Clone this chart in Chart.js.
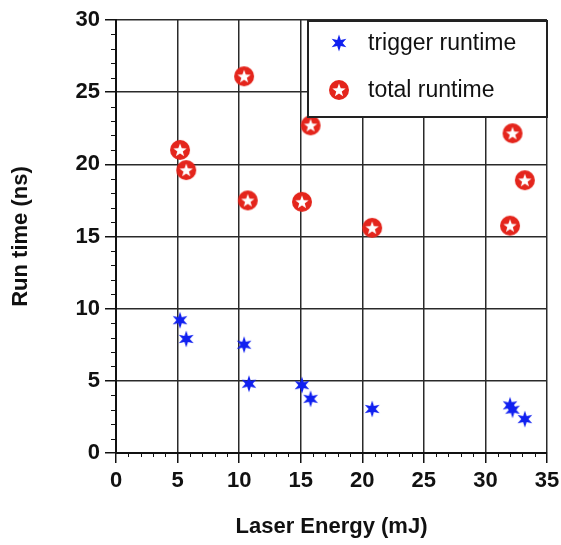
<!DOCTYPE html>
<html>
<head>
<meta charset="utf-8">
<script src="https://cdn.jsdelivr.net/npm/chart.js@4"></script>
<style>
  html, body { margin: 0; padding: 0; background: #fff; }
  canvas { display: block; }
</style>
</head>
<body>
<canvas id="runChart" width="561" height="545"></canvas>
<script>
// laser energy (mJ) vs run time (ns)
const triggerEnergy = [5.2, 5.7, 10.4, 10.8, 15.1, 15.8, 20.8, 32.0, 32.2, 33.2];
const triggerTime = [9.2, 7.9, 7.5, 4.8, 4.7, 3.75, 3.05, 3.3, 3.0, 2.35];
const totalEnergy = [5.2, 5.7, 10.4, 10.7, 15.1, 15.8, 20.8, 32.0, 32.2, 33.2];
const totalTime = [21.0, 19.6, 26.1, 17.5, 17.4, 22.7, 15.6, 15.75, 22.15, 18.9];
const seriesLabels = ['trigger runtime', 'total runtime'];
const xTicks = [0, 5, 10, 15, 20, 25, 30, 35];
const yTicks = [0, 5, 10, 15, 20, 25, 30];

const colors = {
    blue: '#1020f0',
    red: '#e4251c',
    grid: '#2a2a2a',
    axis: '#111'
};

function starPath(ctx, cx, cy, points, outer, inner) {
    ctx.beginPath();
    for (let i = 0; i < points * 2; i++) {
        const r = i % 2 === 0 ? outer : inner;
        const a = -Math.PI / 2 + i * Math.PI / points;
        const x = cx + r * Math.cos(a);
        const y = cy + r * Math.sin(a);
        if (i === 0) ctx.moveTo(x, y); else ctx.lineTo(x, y);
    }
    ctx.closePath();
}

// blue six-point star
function makeTriggerIcon() {
    const c = document.createElement('canvas');
    c.width = 20; c.height = 20;
    const g = c.getContext('2d');
    starPath(g, 10, 10, 6, 8.5, 3.6);
    g.fillStyle = colors.blue;
    g.fill();
    return c;
}

// red disc with a white five-point star
function makeTotalIcon() {
    const c = document.createElement('canvas');
    c.width = 22; c.height = 22;
    const g = c.getContext('2d');
    g.beginPath();
    g.arc(11, 11, 10, 0, Math.PI * 2);
    g.fillStyle = colors.red;
    g.fill();
    starPath(g, 11, 11.6, 5, 7, 2.9);
    g.fillStyle = '#fff';
    g.fill();
    return c;
}

const triggerIcon = makeTriggerIcon();
const totalIcon = makeTotalIcon();

const isMajor = (v, list) => list.includes(v);

// small unit ticks between the labelled ones
const minorTicks = {
    id: 'minorTicks',
    afterDraw(chart) {
        const { ctx, scales: { x, y } } = chart;
        ctx.save();
        ctx.strokeStyle = colors.axis;
        ctx.lineWidth = 1;
        for (let v = x.min; v <= x.max; v++) {
            if (isMajor(v, xTicks)) continue;
            const px = Math.round(x.getPixelForValue(v)) + 0.5;
            ctx.beginPath();
            ctx.moveTo(px, y.bottom);
            ctx.lineTo(px, y.bottom + 4);
            ctx.stroke();
        }
        for (let v = y.min; v <= y.max; v++) {
            if (isMajor(v, yTicks)) continue;
            const py = Math.round(y.getPixelForValue(v)) + 0.5;
            ctx.beginPath();
            ctx.moveTo(x.left - 5, py);
            ctx.lineTo(x.left, py);
            ctx.stroke();
        }
        ctx.restore();
    }
};

// boxed legend in the upper right corner of the plot
const boxLegend = {
    id: 'boxLegend',
    afterDraw(chart) {
        const { ctx, chartArea: a } = chart;
        const left = 308, top = a.top + 1, right = a.right, bottom = 117;
        ctx.save();
        ctx.fillStyle = '#fff';
        ctx.fillRect(left, top, right - left, bottom - top);
        ctx.strokeStyle = '#222';
        ctx.lineWidth = 2;
        ctx.strokeRect(left, top, right - left, bottom - top);
        const icons = [triggerIcon, totalIcon];
        const rows = [43, 90];
        ctx.font = '23px "Liberation Sans", Arial, sans-serif';
        ctx.fillStyle = '#111';
        ctx.textBaseline = 'middle';
        chart.data.datasets.forEach((ds, i) => {
            const img = icons[i];
            ctx.drawImage(img, 339 - img.width / 2, rows[i] - img.height / 2);
            ctx.fillText(ds.label, 368, rows[i] + 1);
        });
        ctx.restore();
    }
};

const tickFont = { family: '"Liberation Sans", Arial, sans-serif', size: 22, weight: 'bold' };
const titleFont = { family: '"Liberation Sans", Arial, sans-serif', size: 22, weight: 'bold' };

new Chart(document.getElementById('runChart'), {
    type: 'scatter',
    data: {
        datasets: [{
            label: seriesLabels[0],
            data: triggerEnergy.map((e, i) => ({ x: e, y: triggerTime[i] })),
            pointStyle: triggerIcon,
            pointRadius: 9
        }, {
            label: seriesLabels[1],
            data: totalEnergy.map((e, i) => ({ x: e, y: totalTime[i] })),
            pointStyle: totalIcon,
            pointRadius: 10
        }]
    },
    options: {
        responsive: false,
        animation: false,
        events: [],
        layout: { padding: { top: 20, right: 14, left: 0, bottom: 0 } },
        plugins: {
            legend: { display: false },
            tooltip: { enabled: false }
        },
        scales: {
            x: {
                type: 'linear',
                min: 0,
                max: 35,
                afterFit: s => { s.height = 92; s.paddingLeft = 0; s.paddingRight = 0; },
                afterBuildTicks: s => { s.ticks = xTicks.map(v => ({ value: v })); },
                ticks: { color: '#111', font: tickFont, padding: 5, maxRotation: 0, autoSkip: false },
                grid: { color: colors.grid, lineWidth: 1.5, tickColor: colors.axis, tickLength: 10, tickWidth: 1.5 },
                border: { color: colors.axis, width: 2 },
                title: { display: true, text: 'Laser Energy (mJ)', color: '#111', font: titleFont, padding: { top: 0, bottom: 5 } }
            },
            y: {
                type: 'linear',
                min: 0,
                max: 30,
                afterFit: s => { s.width = 116; s.paddingTop = 0; s.paddingBottom = 0; },
                afterBuildTicks: s => { s.ticks = yTicks.map(v => ({ value: v })); },
                ticks: { color: '#111', font: tickFont, padding: 5, autoSkip: false },
                grid: { color: colors.grid, lineWidth: 1.5, tickColor: colors.axis, tickLength: 11, tickWidth: 1.5 },
                border: { color: colors.axis, width: 2 },
                title: { display: true, text: 'Run time (ns)', color: '#111', font: titleFont, padding: { top: 8, bottom: 0 } }
            }
        }
    },
    plugins: [minorTicks, boxLegend]
});
</script>
</body>
</html>
